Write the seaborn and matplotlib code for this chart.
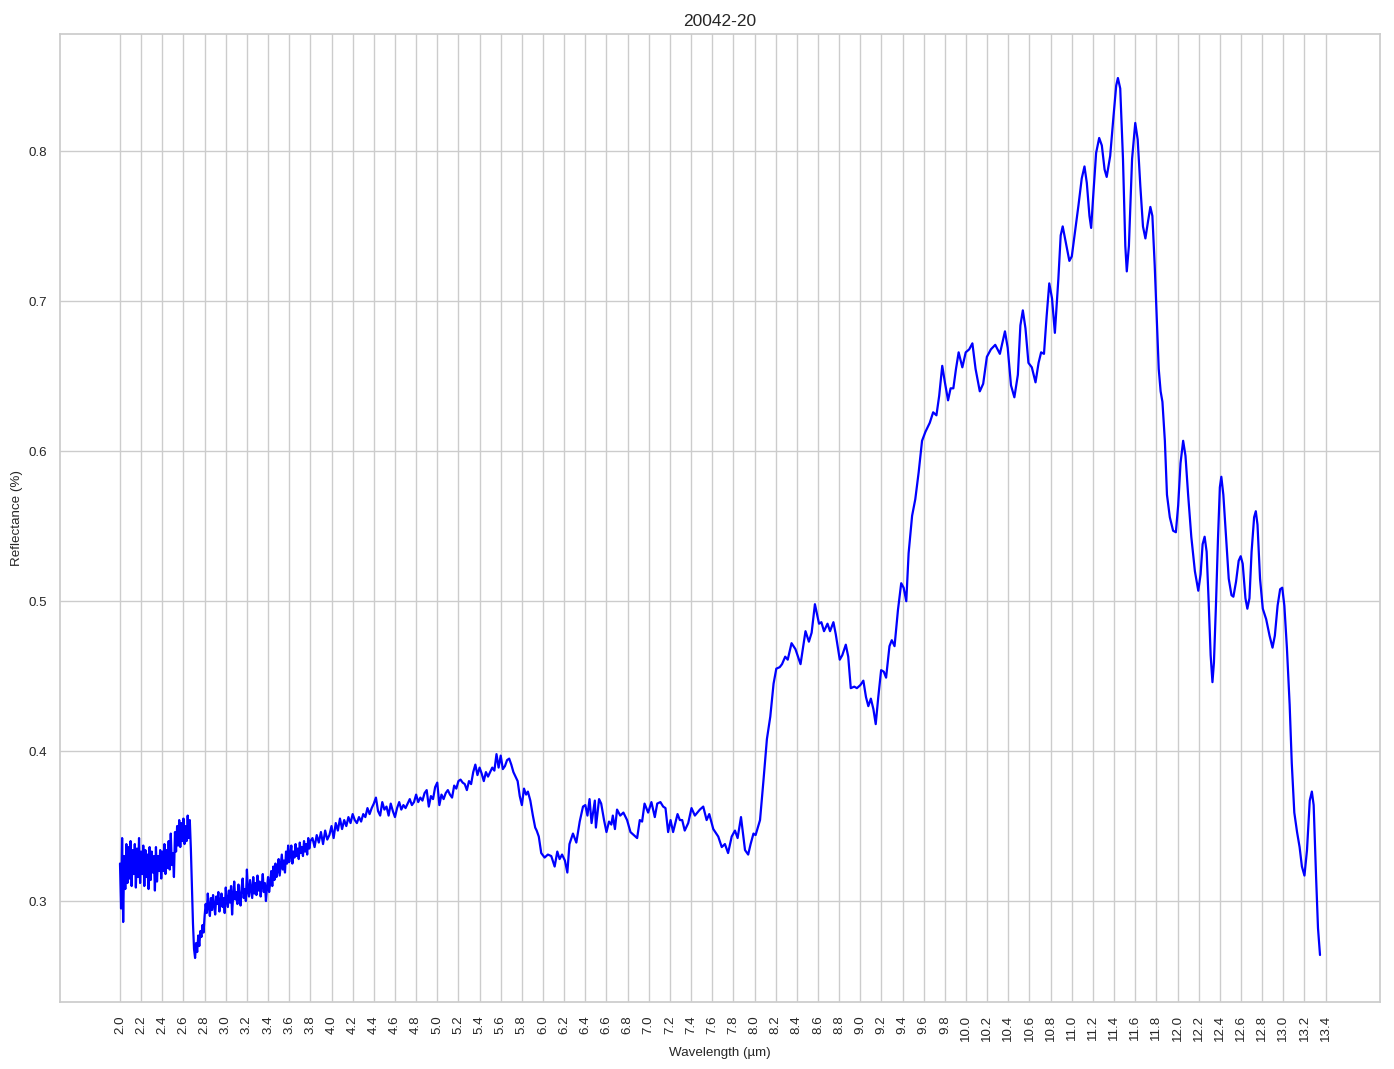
import numpy as np
import pandas as pd
import matplotlib
matplotlib.use("Agg")
import matplotlib.pyplot as plt
import seaborn as sns

TITLE = "20042-20"
XLABEL = "Wavelength (µm)"
YLABEL = "Reflectance (%)"

# Noisy part 1: 2.00 - 2.80 µm, step 0.01
x_start_a, x_step_a = 2.00, 0.01
refl_a = [
    0.325, 0.295, 0.342, 0.286, 0.330, 0.308, 0.338, 0.312, 0.336, 0.315,
    0.340, 0.310, 0.334, 0.318, 0.338, 0.309, 0.335, 0.316, 0.342, 0.312,
    0.333, 0.318, 0.337, 0.310, 0.334, 0.316, 0.331, 0.308, 0.336, 0.314,
    0.333, 0.319, 0.330, 0.307, 0.336, 0.313, 0.330, 0.320, 0.334, 0.315,
    0.333, 0.320, 0.338, 0.318, 0.334, 0.322, 0.340, 0.321, 0.345, 0.324,
    0.332, 0.316, 0.346, 0.333, 0.350, 0.337, 0.354, 0.336, 0.352, 0.340,
    0.355, 0.338, 0.350, 0.340, 0.357, 0.342, 0.354, 0.335, 0.310, 0.285,
    0.268, 0.262, 0.272, 0.266, 0.277, 0.270, 0.280, 0.276, 0.284, 0.279,
    0.290,
]

# Noisy part 2: 2.81 - 3.80 µm, step 0.01
x_start_b, x_step_b = 2.81, 0.01
refl_b = [
    0.298, 0.292, 0.305, 0.296, 0.290, 0.302, 0.294, 0.304, 0.297, 0.291,
    0.303, 0.298, 0.306, 0.293, 0.300, 0.305, 0.296, 0.302, 0.292, 0.309,
    0.300, 0.296, 0.307, 0.299, 0.310, 0.291, 0.304, 0.313, 0.301, 0.306,
    0.298, 0.311, 0.303, 0.297, 0.309, 0.315, 0.302, 0.308, 0.300, 0.321,
    0.306, 0.303, 0.314, 0.308, 0.302, 0.316, 0.305, 0.312, 0.304, 0.317,
    0.307, 0.313, 0.303, 0.310, 0.318, 0.306, 0.312, 0.300, 0.309, 0.316,
    0.306, 0.312, 0.320, 0.310, 0.323, 0.314, 0.325, 0.316, 0.320, 0.328,
    0.317, 0.324, 0.331, 0.321, 0.327, 0.319, 0.333, 0.325, 0.337, 0.326,
    0.331, 0.337, 0.325, 0.333, 0.329, 0.338, 0.330, 0.335, 0.328, 0.339,
    0.332, 0.336, 0.330, 0.340, 0.333, 0.338, 0.331, 0.342, 0.335, 0.340,
]

# Noisy part 3: 3.82 - 5.78 µm, step 0.02
x_start_c, x_step_c = 3.82, 0.02
refl_c = [
    0.342, 0.336, 0.344, 0.339, 0.346, 0.338, 0.347, 0.341, 0.344, 0.350,
    0.342, 0.352, 0.347, 0.355, 0.348, 0.354, 0.350, 0.356, 0.352, 0.358,
    0.354, 0.352, 0.356, 0.353, 0.358, 0.356, 0.362, 0.358, 0.362, 0.365,
    0.369, 0.360, 0.357, 0.366, 0.361, 0.363, 0.357, 0.365, 0.360, 0.356,
    0.362, 0.366, 0.361, 0.364, 0.362, 0.365, 0.368, 0.364, 0.366, 0.371,
    0.366, 0.369, 0.367, 0.372, 0.374, 0.363, 0.370, 0.368, 0.376, 0.379,
    0.364, 0.371, 0.368, 0.372, 0.374, 0.371, 0.369, 0.377, 0.375, 0.380,
    0.381, 0.379, 0.378, 0.374, 0.380, 0.378, 0.386, 0.391, 0.384, 0.389,
    0.385, 0.380, 0.386, 0.383, 0.386, 0.389, 0.387, 0.398, 0.389, 0.397,
    0.388, 0.390, 0.394, 0.395, 0.391, 0.386, 0.383, 0.380, 0.370,
]

# Smooth part: 5.80 - 13.35 µm
wl_d = [
    5.800, 5.820, 5.840, 5.857, 5.880, 5.904, 5.926, 5.940, 5.960, 5.983,
    6.015, 6.046, 6.078, 6.110, 6.135, 6.157, 6.180, 6.207, 6.230, 6.250,
    6.283, 6.315, 6.347, 6.378, 6.400, 6.420, 6.440, 6.459, 6.490, 6.500,
    6.530, 6.550, 6.577, 6.600, 6.624, 6.646, 6.660, 6.680, 6.700, 6.730,
    6.760, 6.795, 6.827, 6.858, 6.890, 6.915, 6.937, 6.960, 6.994, 7.025,
    7.057, 7.080, 7.110, 7.136, 7.158, 7.183, 7.206, 7.230, 7.272, 7.294,
    7.316, 7.340, 7.373, 7.404, 7.436, 7.483, 7.515, 7.547, 7.572, 7.610,
    7.657, 7.690, 7.720, 7.750, 7.784, 7.815, 7.840, 7.872, 7.910, 7.940,
    7.963, 7.990, 8.010, 8.052, 8.084, 8.117, 8.149, 8.180, 8.206, 8.238,
    8.260, 8.290, 8.314, 8.350, 8.387, 8.435, 8.482, 8.514, 8.540, 8.571,
    8.610, 8.632, 8.657, 8.690, 8.714, 8.746, 8.768, 8.806, 8.830, 8.863,
    8.886, 8.910, 8.943, 8.968, 9.000, 9.029, 9.054, 9.076, 9.100, 9.124,
    9.146, 9.170, 9.197, 9.222, 9.244, 9.276, 9.298, 9.324, 9.356, 9.387,
    9.410, 9.435, 9.457, 9.490, 9.520, 9.552, 9.584, 9.616, 9.657, 9.689,
    9.720, 9.746, 9.775, 9.800, 9.830, 9.854, 9.880, 9.905, 9.930, 9.965,
    9.997, 10.030, 10.060, 10.090, 10.130, 10.162, 10.197, 10.235, 10.276, 10.320,
    10.368, 10.394, 10.425, 10.457, 10.490, 10.514, 10.537, 10.562, 10.590, 10.622,
    10.657, 10.686, 10.710, 10.737, 10.762, 10.787, 10.813, 10.840, 10.873, 10.895,
    10.914, 10.936, 10.977, 11.000, 11.030, 11.063, 11.094, 11.120, 11.142, 11.167,
    11.183, 11.205, 11.230, 11.259, 11.284, 11.310, 11.330, 11.363, 11.395, 11.420,
    11.436, 11.458, 11.484, 11.506, 11.520, 11.540, 11.570, 11.600, 11.623, 11.648,
    11.673, 11.696, 11.720, 11.743, 11.762, 11.784, 11.806, 11.822, 11.840, 11.857,
    11.880, 11.900, 11.927, 11.958, 11.984, 12.006, 12.028, 12.053, 12.075, 12.100,
    12.130, 12.164, 12.196, 12.218, 12.237, 12.256, 12.275, 12.294, 12.313, 12.330,
    12.344, 12.363, 12.382, 12.400, 12.414, 12.433, 12.458, 12.484, 12.510, 12.528,
    12.553, 12.578, 12.597, 12.616, 12.642, 12.660, 12.680, 12.700, 12.724, 12.740,
    12.756, 12.780, 12.806, 12.838, 12.870, 12.898, 12.920, 12.946, 12.970, 12.990,
    13.010, 13.034, 13.060, 13.080, 13.104, 13.130, 13.154, 13.176, 13.200, 13.224,
    13.250, 13.270, 13.287, 13.310, 13.328, 13.347,
]
refl_d = [
    0.364, 0.375, 0.371, 0.373, 0.367, 0.357, 0.349, 0.347, 0.343, 0.332,
    0.329, 0.331, 0.330, 0.323, 0.333, 0.328, 0.331, 0.327, 0.319, 0.338,
    0.345, 0.339, 0.353, 0.363, 0.364, 0.357, 0.368, 0.352, 0.367, 0.349,
    0.368, 0.365, 0.354, 0.346, 0.353, 0.351, 0.357, 0.348, 0.361, 0.357,
    0.359, 0.354, 0.346, 0.344, 0.342, 0.354, 0.353, 0.365, 0.359, 0.366,
    0.356, 0.365, 0.366, 0.363, 0.362, 0.346, 0.354, 0.346, 0.358, 0.354,
    0.354, 0.347, 0.352, 0.362, 0.357, 0.361, 0.363, 0.354, 0.358, 0.348,
    0.343, 0.336, 0.338, 0.332, 0.343, 0.347, 0.342, 0.356, 0.334, 0.331,
    0.338, 0.345, 0.344, 0.354, 0.380, 0.408, 0.423, 0.445, 0.455, 0.456,
    0.458, 0.463, 0.461, 0.472, 0.468, 0.458, 0.480, 0.473, 0.479, 0.498,
    0.485, 0.486, 0.480, 0.485, 0.480, 0.486, 0.478, 0.461, 0.464, 0.471,
    0.463, 0.442, 0.443, 0.442, 0.444, 0.447, 0.436, 0.430, 0.435, 0.428,
    0.418, 0.436, 0.454, 0.453, 0.449, 0.470, 0.474, 0.470, 0.494, 0.512,
    0.509, 0.500, 0.532, 0.557, 0.568, 0.586, 0.607, 0.613, 0.619, 0.626,
    0.624, 0.637, 0.657, 0.646, 0.634, 0.642, 0.642, 0.655, 0.666, 0.656,
    0.666, 0.668, 0.672, 0.655, 0.640, 0.645, 0.663, 0.668, 0.671, 0.665,
    0.680, 0.669, 0.644, 0.636, 0.651, 0.684, 0.694, 0.682, 0.659, 0.656,
    0.646, 0.659, 0.666, 0.665, 0.690, 0.712, 0.702, 0.679, 0.715, 0.744,
    0.750, 0.742, 0.727, 0.730, 0.746, 0.764, 0.782, 0.790, 0.779, 0.757,
    0.749, 0.773, 0.799, 0.809, 0.804, 0.788, 0.783, 0.797, 0.824, 0.844,
    0.849, 0.842, 0.795, 0.737, 0.720, 0.737, 0.795, 0.819, 0.808, 0.777,
    0.750, 0.742, 0.753, 0.763, 0.757, 0.724, 0.684, 0.655, 0.640, 0.633,
    0.607, 0.571, 0.556, 0.547, 0.546, 0.564, 0.592, 0.607, 0.597, 0.571,
    0.543, 0.520, 0.507, 0.518, 0.538, 0.543, 0.533, 0.500, 0.464, 0.446,
    0.459, 0.497, 0.541, 0.576, 0.583, 0.571, 0.543, 0.515, 0.504, 0.503,
    0.513, 0.527, 0.530, 0.525, 0.502, 0.495, 0.502, 0.533, 0.556, 0.560,
    0.551, 0.515, 0.495, 0.488, 0.477, 0.469, 0.477, 0.497, 0.508, 0.509,
    0.497, 0.469, 0.431, 0.392, 0.359, 0.346, 0.336, 0.323, 0.317, 0.334,
    0.367, 0.373, 0.364, 0.316, 0.282, 0.264,
]

xtick_values = np.round(np.arange(2.0, 13.41, 0.2), 1)
xtick_labels = [f"{v:.1f}" for v in xtick_values]
ytick_values = [0.3, 0.4, 0.5, 0.6, 0.7, 0.8]

wl_a = x_start_a + x_step_a * np.arange(len(refl_a))
wl_b = x_start_b + x_step_b * np.arange(len(refl_b))
wl_c = x_start_c + x_step_c * np.arange(len(refl_c))
df = pd.DataFrame({
    "wl": np.concatenate([wl_a, wl_b, wl_c, np.array(wl_d)]),
    "refl": np.concatenate([refl_a, refl_b, refl_c, refl_d]),
})

sns.set_theme(style="whitegrid")
plt.rcParams["font.family"] = ["Liberation Sans", "DejaVu Sans"]

fig, ax = plt.subplots(figsize=(13.94, 10.69), dpi=100)
fig.subplots_adjust(left=60 / 1394, right=1380 / 1394, bottom=1 - 1002 / 1069, top=1 - 34 / 1069)

sns.lineplot(data=df, x="wl", y="refl", ax=ax, color="#0000ff", linewidth=1.6,
             estimator=None, sort=False)

ax.set_xticks(xtick_values)
ax.set_xticklabels(xtick_labels, rotation=90, fontsize=9.6)
ax.set_yticks(ytick_values)
ax.tick_params(axis="y", labelsize=9.6)
ax.set_xlabel(XLABEL, fontsize=9.6)
ax.set_ylabel(YLABEL, fontsize=9.6)
ax.set_title(TITLE, fontsize=12.5)
ax.margins(x=0.05, y=0.05)

fig.savefig("out.png", dpi=100)
